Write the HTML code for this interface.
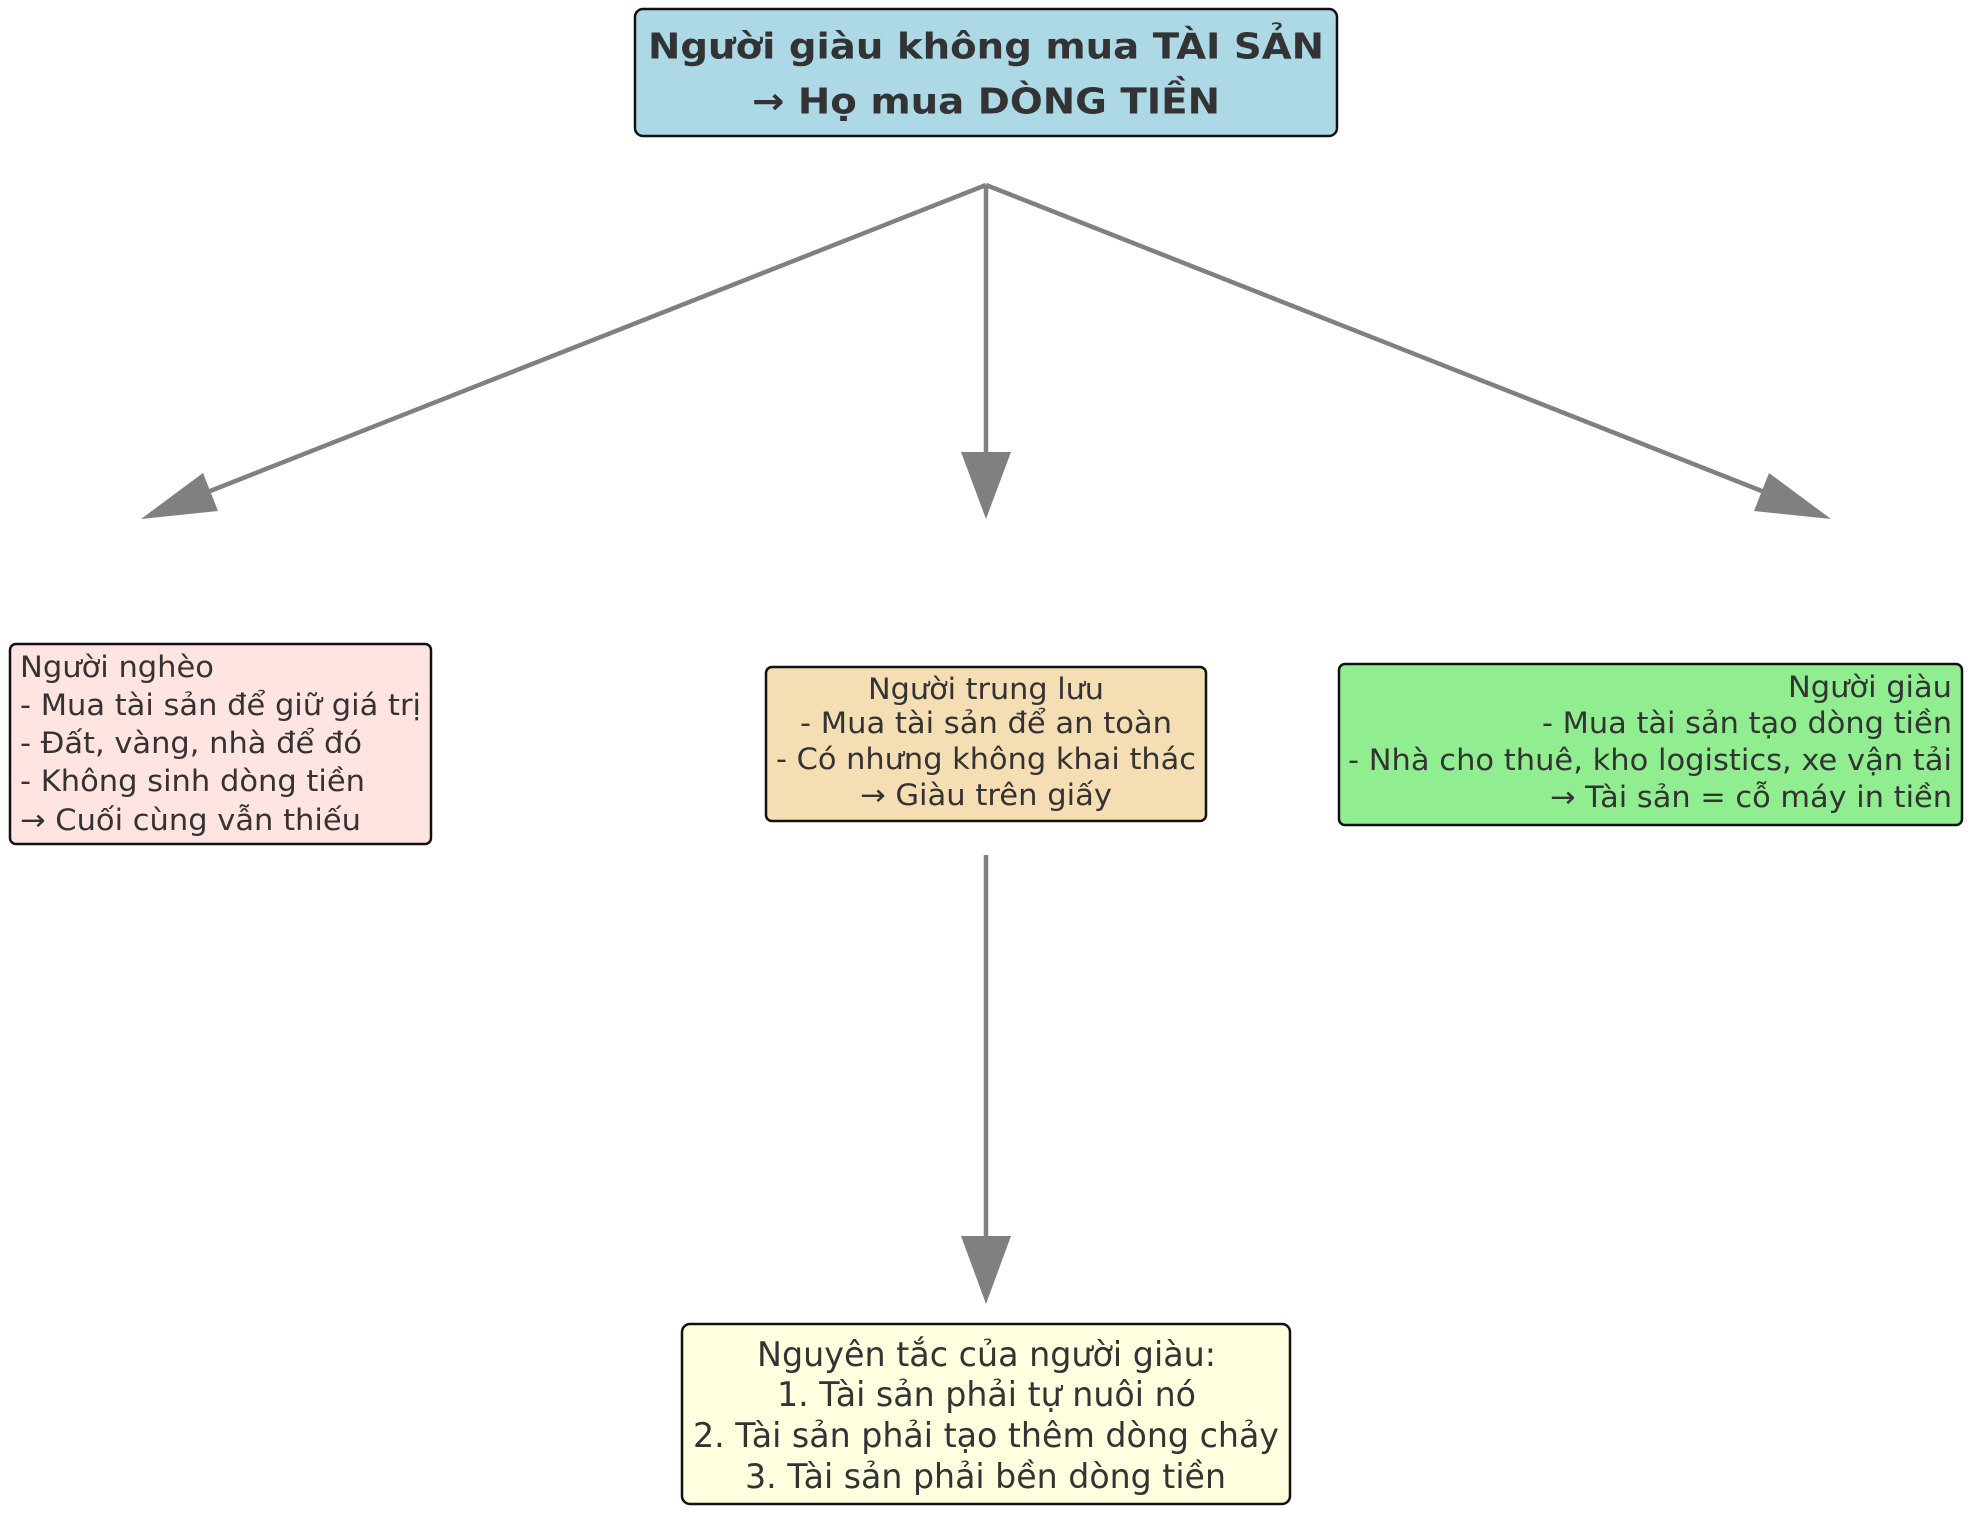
<!DOCTYPE html>
<html><head><meta charset="utf-8"><style>html,body{margin:0;padding:0;background:#fff}svg{display:block}</style></head><body>
<svg width="1972" height="1515" viewBox="0 0 1972 1515" xmlns="http://www.w3.org/2000/svg" font-family="DejaVu Sans, Liberation Sans, sans-serif" fill="#333">
<g stroke="#808080" stroke-width="4.5" fill="none">
<line x1="986" y1="185" x2="195" y2="497"/>
<line x1="986" y1="185" x2="986" y2="455"/>
<line x1="986" y1="185" x2="1777" y2="497"/>
<line x1="986" y1="855" x2="986" y2="1240"/>
</g>
<g fill="#808080">
<polygon points="141,519 203,473 218,511"/>
<polygon points="986,519 961,452 1011,452"/>
<polygon points="1831,519 1754,511 1769,473"/>
<polygon points="986,1304 961,1236 1011,1236"/>
</g>
<g stroke="#111" stroke-width="2.5">
<rect x="635" y="9" width="702" height="127" rx="8" fill="#add8e6"/>
<rect x="10" y="644" width="421" height="200" rx="6" fill="#ffe4e1"/>
<rect x="766" y="667" width="440" height="154" rx="6" fill="#f5deb3"/>
<rect x="1339" y="664" width="623" height="161" rx="6" fill="#90ee90"/>
<rect x="682" y="1324" width="608" height="180" rx="8" fill="#ffffe0"/>
</g>
<g font-weight="bold" font-size="36" dominant-baseline="central">
<text x="648" y="47" textLength="676" lengthAdjust="spacingAndGlyphs">Người giàu không mua TÀI SẢN</text>
<text x="752" y="102" textLength="468" lengthAdjust="spacingAndGlyphs">→ Họ mua DÒNG TIỀN</text>
</g>
<g font-size="29" dominant-baseline="central">
<text x="20" y="667" textLength="194" lengthAdjust="spacingAndGlyphs">Người nghèo</text>
<text x="20" y="705" textLength="401" lengthAdjust="spacingAndGlyphs">- Mua tài sản để giữ giá trị</text>
<text x="20" y="743" textLength="342" lengthAdjust="spacingAndGlyphs">- Đất, vàng, nhà để đó</text>
<text x="20" y="781" textLength="345" lengthAdjust="spacingAndGlyphs">- Không sinh dòng tiền</text>
<text x="20" y="820" textLength="341" lengthAdjust="spacingAndGlyphs">→ Cuối cùng vẫn thiếu</text>
<text x="868" y="689" textLength="236" lengthAdjust="spacingAndGlyphs">Người trung lưu</text>
<text x="800" y="723" textLength="372" lengthAdjust="spacingAndGlyphs">- Mua tài sản để an toàn</text>
<text x="776" y="759" textLength="420" lengthAdjust="spacingAndGlyphs">- Có nhưng không khai thác</text>
<text x="860" y="795" textLength="252" lengthAdjust="spacingAndGlyphs">→ Giàu trên giấy</text>
<text x="1788" y="687" textLength="164" lengthAdjust="spacingAndGlyphs">Người giàu</text>
<text x="1542" y="723" textLength="410" lengthAdjust="spacingAndGlyphs">- Mua tài sản tạo dòng tiền</text>
<text x="1348" y="760" textLength="604" lengthAdjust="spacingAndGlyphs">- Nhà cho thuê, kho logistics, xe vận tải</text>
<text x="1550" y="797" textLength="402" lengthAdjust="spacingAndGlyphs">→ Tài sản = cỗ máy in tiền</text>
</g>
<g font-size="34" dominant-baseline="central">
<text x="757" y="1355" textLength="459" lengthAdjust="spacingAndGlyphs">Nguyên tắc của người giàu:</text>
<text x="777" y="1395" textLength="419" lengthAdjust="spacingAndGlyphs">1. Tài sản phải tự nuôi nó</text>
<text x="693" y="1436" textLength="586" lengthAdjust="spacingAndGlyphs">2. Tài sản phải tạo thêm dòng chảy</text>
<text x="745" y="1477" textLength="481" lengthAdjust="spacingAndGlyphs">3. Tài sản phải bền dòng tiền</text>
</g>
</svg>
</body></html>
